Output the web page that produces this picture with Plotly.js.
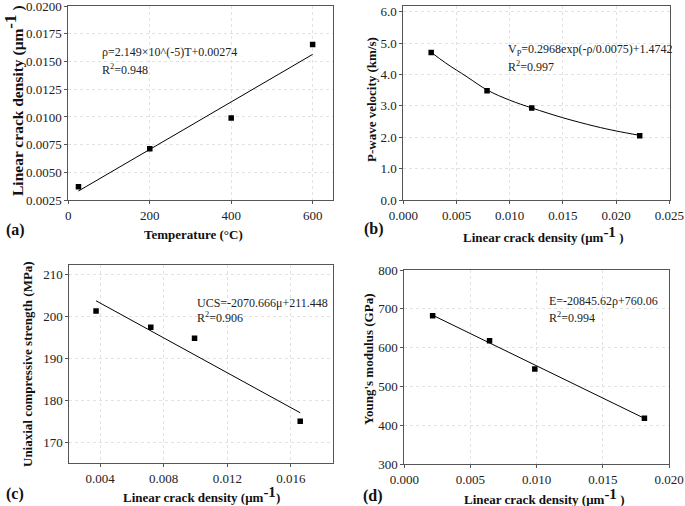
<!DOCTYPE html>
<html><head><meta charset="utf-8">
<script src="https://cdn.plot.ly/plotly-3.0.1.min.js"></script>
<style>html,body{margin:0;padding:0;background:#fff}#chart{width:685px;height:506px}</style>
</head><body><div id="chart"></div>
<script>
// (a) temperature vs linear crack density
const tempA = [25, 200, 400, 600];
const rhoA = [0.0037, 0.00713, 0.0099, 0.01655];
const fitAx = [25, 600];
const fitAy = [0.00331, 0.01565];
// (b) crack density vs P-wave velocity
const rhoB = [0.00262, 0.00787, 0.01207, 0.02222];
const vpB = [4.70, 3.48, 2.93, 2.05];
const curveBx = [0.0026, 0.004, 0.006, 0.0079, 0.010, 0.0121, 0.015, 0.018, 0.020, 0.0222];
const curveBy = [4.71, 4.36, 3.92, 3.50, 3.18, 2.93, 2.62, 2.35, 2.20, 2.06];
// (c) crack density vs UCS
const rhoC = [0.00375, 0.00719, 0.00994, 0.01658];
const ucsC = [201.3, 197.4, 194.8, 175.1];
const fitCx = [0.00375, 0.01658];
const fitCy = [203.7, 177.1];
// (d) crack density vs Young's modulus
const rhoD = [0.00214, 0.00644, 0.00986, 0.01814];
const eD = [682.3, 617.9, 544.8, 417.7];
const fitDx = [0.00214, 0.01814];
const fitDy = [683.5, 417.7];

const W = 685, H = 506;
const SERIF = 'Liberation Serif, Times New Roman, serif';
function fx(px){return px/W;}
function fy(py){return 1-py/H;}

const mk = {symbol:'square', size:5.5, color:'#000'};
const ln = {color:'#000', width:1};
const traces = [
  {x:fitAx, y:fitAy, mode:'lines', line:ln, xaxis:'x', yaxis:'y'},
  {x:tempA, y:rhoA, mode:'markers', marker:mk, xaxis:'x', yaxis:'y'},
  {x:curveBx, y:curveBy, mode:'lines', line:Object.assign({shape:'spline'}, ln), xaxis:'x2', yaxis:'y2'},
  {x:rhoB, y:vpB, mode:'markers', marker:mk, xaxis:'x2', yaxis:'y2'},
  {x:fitCx, y:fitCy, mode:'lines', line:ln, xaxis:'x3', yaxis:'y3'},
  {x:rhoC, y:ucsC, mode:'markers', marker:mk, xaxis:'x3', yaxis:'y3'},
  {x:fitDx, y:fitDy, mode:'lines', line:ln, xaxis:'x4', yaxis:'y4'},
  {x:rhoD, y:eD, mode:'markers', marker:mk, xaxis:'x4', yaxis:'y4'}
];

function ax(extra){
  return Object.assign({
    showline:true, mirror:true, linecolor:'#555', linewidth:1,
    showgrid:true, gridcolor:'#e2e2e2', griddash:'dot', gridwidth:1,
    zeroline:false, ticks:'outside', ticklen:3, tickcolor:'#555', tickwidth:1,
    automargin:false, ticklabeloverflow:'allow',
    tickfont:{family:SERIF, size:13, color:'#222'}
  }, extra);
}

const layout = {
  width:W, height:H, margin:{l:0,r:0,t:0,b:0},
  paper_bgcolor:'#fff', plot_bgcolor:'#fff', showlegend:false,
  xaxis: ax({domain:[fx(68.3), fx(333)], range:[0,650], dtick:200, tick0:0, anchor:'y'}),
  yaxis: ax({domain:[fy(200), fy(6)], range:[0.0025,0.02002], dtick:0.0025, tick0:0.0025, tickformat:'.4f', anchor:'x'}),
  xaxis2: ax({domain:[fx(403.3), fx(669.5)], range:[0,0.02502], dtick:0.005, tickformat:'.3f', anchor:'y2'}),
  yaxis2: ax({domain:[fy(200), fy(6)], range:[0,6.18], dtick:1, tick0:0, tickformat:'.1f', anchor:'x2'}),
  xaxis3: ax({domain:[fx(69.3), fx(333)], range:[0.00207,0.01864], dtick:0.004, tick0:0, tickformat:'.3f', anchor:'y3'}),
  yaxis3: ax({domain:[fy(463.3), fy(265)], range:[165.1,212.2], dtick:10, tick0:0, anchor:'x3'}),
  xaxis4: ax({domain:[fx(404.3), fx(669.3)], range:[0,0.02002], dtick:0.005, tickformat:'.3f', anchor:'y4'}),
  yaxis4: ax({domain:[fy(464), fy(270)], range:[300,800], dtick:100, tick0:0, anchor:'x4'}),
  annotations: []
};

function txt(text, px, py, opts){
  layout.annotations.push(Object.assign({
    text:text, xref:'paper', yref:'paper', x:fx(px), y:fy(py),
    showarrow:false, xanchor:'left', yanchor:'middle',
    font:{family:SERIF, size:12, color:'#222'}
  }, opts||{}));
}

// equations
txt('ρ=2.149×10^(-5)T+0.00274', 100, 52);
txt('R<sup>2</sup>=0.948', 100, 70);
txt('V<sub>P</sub>=0.2968exp(-ρ/0.0075)+1.4742', 506, 50);
txt('R<sup>2</sup>=0.997', 506, 66);
txt('UCS=-2070.666μ+211.448', 195, 303);
txt('R<sup>2</sup>=0.906', 195, 317);
txt('E=-20845.62ρ+760.06', 547, 301);
txt('R<sup>2</sup>=0.994', 547, 317);

// panel labels
const pl = {font:{family:SERIF, size:16, color:'#111'}};
txt('<b>(a)</b>', 4, 230, pl);
txt('<b>(b)</b>', 362, 229, pl);
txt('<b>(c)</b>', 4, 494, pl);
txt('<b>(d)</b>', 361, 496, pl);

// axis titles
const tf = {family:SERIF, size:13, color:'#111'};
const SUP = '<sup><span style="font-size:15px">-1</span></sup>';
const SUPA = '<sup><span style="font-size:17px">-1</span></sup>';
txt('<b>Temperature (°C)</b>', 193, 234, {xanchor:'center', font:tf});
txt('<b>Linear crack density (μm' + SUP + ' )</b>', 543, 234, {xanchor:'center', font:tf});
txt('<b>Linear crack density (μm' + SUP + ')</b>', 201, 494, {xanchor:'center', font:tf});
txt('<b>Linear crack density (μm' + SUP + ' )</b>', 544, 496, {xanchor:'center', font:tf});
txt('<b>Linear crack density (μm' + SUPA + ' )</b>', 14, 101, {xanchor:'center', textangle:-90,
    font:{family:SERIF, size:15.5, color:'#111'}});
txt('<b>P-wave velocity (km/s)</b>', 372, 100, {xanchor:'center', textangle:-90, font:tf});
txt('<b>Uniaxial compressive strength (MPa)</b>', 27, 364, {xanchor:'center', textangle:-90, font:tf});
txt('<b>Young\'s modulus (GPa)</b>', 368, 360, {xanchor:'center', textangle:-90, font:tf});

Plotly.newPlot('chart', traces, layout, {displayModeBar:false, staticPlot:true});
</script></body></html>
